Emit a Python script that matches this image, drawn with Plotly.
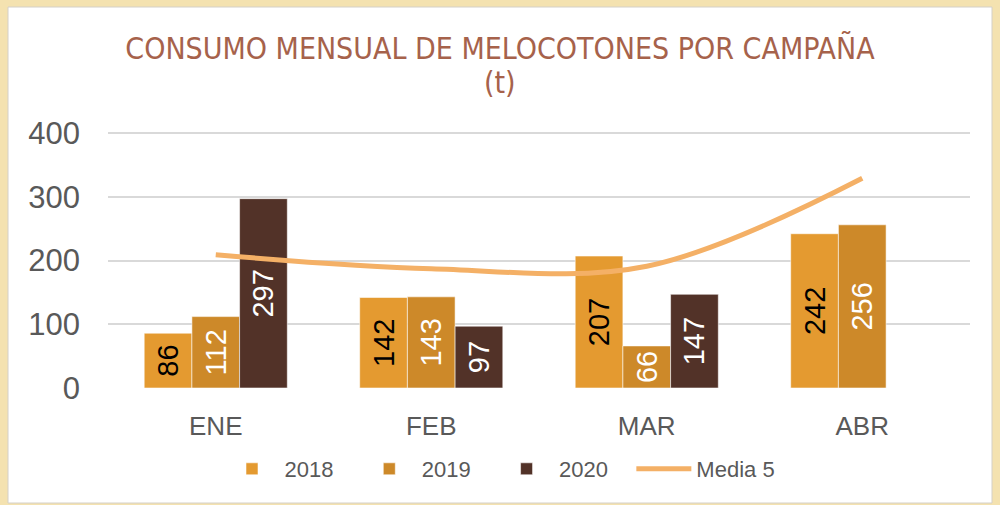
import plotly.graph_objects as go

categories = ["ENE", "FEB", "MAR", "ABR"]
v2018 = [86, 142, 207, 242]
v2019 = [112, 143, 66, 256]
v2020 = [297, 97, 147, None]
media5 = [209, 187, 191, 329]
yticks = [0, 100, 200, 300, 400]

W, H = 1000, 505
ML, MR, MT, MB = 108, 30, 128, 117
PW, PH = W - ML - MR, H - MT - MB
YTOP = 400 * PH / 255.0

def px_x(p):
    return (p - ML) / PW

def px_y(p):
    return (H - MB - p) / PH

FONT = "Liberation Sans, Arial, sans-serif"
TFONT = "DejaVu Sans Condensed, Liberation Sans, sans-serif"
GREY = "#595959"
TCOL = "#A6624B"
PAD = "\u00a0\u00a0\u00a0"

fig = go.Figure()
series = [
    ("2018", v2018, "#E49A30", "black"),
    ("2019", v2019, "#CD8929", "white"),
    ("2020", v2020, "#523228", "white"),
]
for name, vals, col, tcol in series:
    fig.add_trace(go.Bar(
        name=name + PAD, x=categories, y=vals,
        marker=dict(color=col, line=dict(color="rgba(255,255,255,0.55)", width=1)),
        texttemplate="%{y}", textposition="inside", insidetextanchor="middle",
        textangle=-90, constraintext="none",
        textfont=dict(family=FONT, size=29, color=tcol),
    ))

fig.add_trace(go.Scatter(
    name="Media 5", x=categories, y=media5, mode="lines",
    line=dict(color="#F4B066", width=5, shape="spline", smoothing=1),
))

shapes = [
    dict(type="rect", xref="paper", yref="paper", layer="below",
         x0=px_x(8), x1=px_x(992), y0=px_y(503), y1=px_y(7),
         fillcolor="white", line=dict(color="#D4D0C8", width=1)),
]

annotations = [
    dict(text="(t)", xref="paper", yref="paper", x=px_x(500), y=px_y(82),
         xanchor="center", yanchor="middle", showarrow=False,
         font=dict(family=TFONT, size=30, color=TCOL)),
]

fig.update_layout(
    width=W, height=H,
    margin=dict(l=ML, r=MR, t=MT, b=MB, autoexpand=False),
    paper_bgcolor="#F4E2B0",
    plot_bgcolor="rgba(0,0,0,0)",
    shapes=shapes,
    annotations=annotations,
    barmode="group", bargap=0.336, bargroupgap=0,
    font=dict(family=FONT, color=GREY),
    title=dict(
        text="CONSUMO MENSUAL DE MELOCOTONES POR CAMPAÑA",
        x=0.5, xref="container", xanchor="center",
        y=1 - 48 / H, yref="container", yanchor="middle",
        font=dict(family=TFONT, size=30, color=TCOL),
    ),
    xaxis=dict(
        showgrid=False, showline=False, zeroline=False, ticks="",
        tickfont=dict(size=26, color=GREY), ticklabelstandoff=20, automargin=False,
    ),
    yaxis=dict(
        range=[0, YTOP], tickvals=yticks, showgrid=True, gridcolor="#D9D9D9",
        gridwidth=2, zeroline=False, showline=False, ticks="",
        tickfont=dict(size=31, color=GREY), ticklabelstandoff=27, automargin=False,
    ),
    legend=dict(
        orientation="h", x=0.5, xref="container", xanchor="center",
        y=1 - 469 / H, yref="container", yanchor="middle",
        font=dict(size=22, color=GREY), bgcolor="rgba(0,0,0,0)",
        itemwidth=55,
    ),
    showlegend=True,
)

fig.write_html("out.html", config={"displayModeBar": False},
               post_script="document.body.style.margin='0';document.body.style.padding='0';")
